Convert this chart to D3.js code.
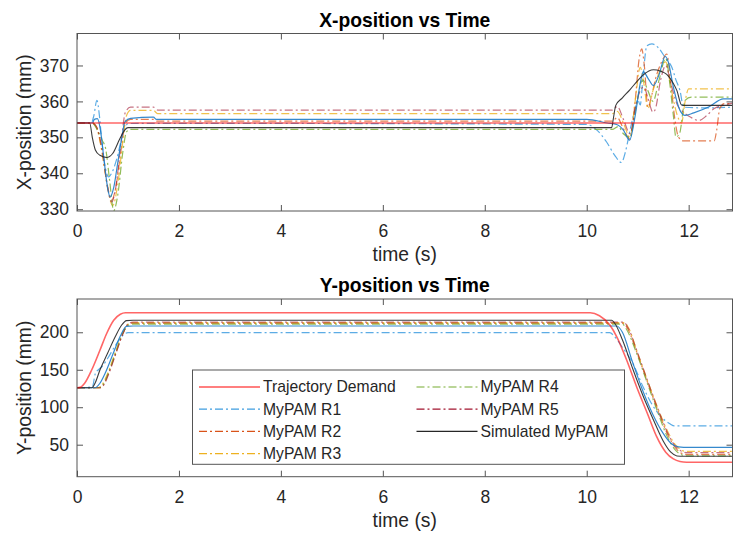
<!DOCTYPE html>
<html>
<head>
<meta charset="utf-8">
<script src="https://cdn.jsdelivr.net/npm/d3@7"></script>
<style>
  body { margin: 0; background: #fff; }
  svg { display: block; }
  text { font-family: "Liberation Sans", Arial, sans-serif; fill: #262626; }
</style>
</head>
<body>
<svg id="chart" width="733" height="538"></svg>
<script>
// ---- data: [time (s), position (mm)] ----
const xTicks = [0, 2, 4, 6, 8, 10, 12];
const xPosTicks = [330, 340, 350, 360, 370];
const yPosTicks = [50, 100, 150, 200];

// X-position vs time
const demandX = [[0, 354], [12.86, 354]];
const r1X = [[0, 354], [0.28, 354], [0.33, 356], [0.39, 360.3], [0.44, 356], [0.48, 350], [0.55, 342], [0.62, 339], [0.68, 340],
  [0.78, 344], [0.91, 351.5], [1.0, 353.8], [1.2, 353.9], [10.0, 353.6], [10.2, 352], [10.39, 348.7], [10.55, 345], [10.68, 343],
  [10.76, 346], [10.85, 352], [10.95, 358], [11.0, 360.5], [11.05, 359], [11.1, 366], [11.18, 375.5], [11.28, 376], [11.4, 375],
  [11.55, 372], [11.67, 369.5], [11.75, 366], [11.83, 363], [11.9, 358.4], [12.3, 358.2], [12.86, 358.4]];
const r2X = [[0, 354], [0.3, 354], [0.38, 353], [0.48, 347], [0.58, 338], [0.68, 332.5], [0.76, 336], [0.86, 346], [0.95, 354],
  [1.05, 355], [1.5, 355], [1.56, 354.5], [10.5, 354.5], [10.6, 355.5], [10.7, 353], [10.85, 349.5], [10.95, 360], [11.03, 372],
  [11.08, 374.6], [11.13, 370], [11.2, 358.4], [11.28, 362], [11.35, 366.3], [11.47, 371], [11.57, 373.2], [11.65, 365],
  [11.73, 355], [11.8, 350.1], [11.9, 349], [12.5, 349], [12.55, 352], [12.61, 358], [12.7, 359.4], [12.86, 359.4]];
const r3X = [[0, 354], [0.3, 354], [0.4, 352], [0.5, 345], [0.6, 336], [0.7, 331], [0.8, 337], [0.9, 349], [0.97, 356],
  [1.05, 357.5], [1.5, 357.5], [1.58, 356.6], [10.5, 356.6], [10.6, 357.2], [10.72, 354], [10.85, 350], [10.95, 360],
  [11.05, 369.5], [11.12, 365], [11.2, 358], [11.3, 363], [11.42, 368], [11.55, 371], [11.65, 364], [11.78, 356], [11.86, 354],
  [11.93, 360], [12.0, 363.5], [12.86, 363.5]];
const r4X = [[0, 354], [0.3, 354], [0.4, 352], [0.5, 349], [0.56, 347], [0.64, 338], [0.72, 329.6], [0.8, 334], [0.9, 346],
  [0.97, 351.5], [1.05, 352.2], [10.5, 352.2], [10.62, 353], [10.72, 351], [10.85, 350], [10.95, 357], [11.1, 366], [11.2, 363],
  [11.3, 360], [11.42, 366], [11.55, 372], [11.63, 365], [11.7, 356], [11.75, 350.1], [11.82, 351], [11.93, 360.3],
  [12.05, 361.2], [12.86, 361.2]];
const r5X = [[0, 354], [0.3, 354], [0.38, 353], [0.5, 346], [0.6, 336], [0.68, 332], [0.76, 336], [0.86, 348], [0.95, 357],
  [1.05, 358.4], [1.5, 358.4], [1.58, 357.6], [10.5, 357.6], [10.6, 358.6], [10.72, 355], [10.85, 351], [10.95, 358], [11.05, 363],
  [11.12, 364], [11.2, 361], [11.3, 357], [11.35, 358], [11.45, 366], [11.55, 370], [11.65, 365], [11.78, 359], [11.9, 357],
  [12.05, 355.5], [12.2, 354.7], [12.35, 356], [12.5, 358], [12.7, 359], [12.86, 359.5]];
const simX = [[0, 354], [0.25, 354], [0.3, 350], [0.36, 346.5], [0.45, 345], [0.58, 344.4], [0.7, 345.5], [0.84, 349.6],
  [0.94, 352.1], [1.0, 352.7], [10.49, 352.7], [10.52, 355], [10.57, 358.9], [10.7, 361], [10.85, 363.3], [11.0, 365.8],
  [11.11, 367.4], [11.31, 368.8], [11.45, 368.4], [11.57, 367.5], [11.7, 365], [11.77, 363], [11.86, 359], [11.9, 358.9],
  [12.86, 358.9]];
const meanX = [[0, 354], [0.3, 354], [0.34, 355], [0.4, 355.2], [0.46, 352], [0.52, 345], [0.6, 336], [0.65, 333.4], [0.72, 336],
  [0.8, 343], [0.88, 350], [0.94, 354.3], [1.05, 355.3], [1.5, 355.6], [1.56, 355], [10.0, 355], [10.4, 354], [10.6, 353.5],
  [10.72, 352], [10.84, 349.2], [10.95, 356], [11.05, 365], [11.11, 368.3], [11.2, 366.5], [11.31, 364.4], [11.42, 367.5],
  [11.54, 372.5], [11.6, 371], [11.7, 364], [11.83, 357.5], [11.93, 356.1], [12.1, 356.8], [12.4, 358.5], [12.68, 360.7],
  [12.86, 360.7]];

// Y-position vs time
const demandY = [[0, 126], [0.06, 126.5], [0.15, 132], [0.29, 150], [0.45, 176], [0.58, 198], [0.72, 216], [0.85, 224],
  [0.95, 226], [10.07, 226], [10.25, 222], [10.45, 210], [10.59, 194], [10.8, 160], [10.98, 127], [11.2, 90], [11.37, 61],
  [11.55, 40], [11.7, 31], [11.83, 27.5], [11.96, 26.5], [12.86, 26.5]];
const r1Y = [[0, 126], [0.3, 127], [0.36, 145], [0.42, 150], [0.5, 155], [0.6, 165], [0.75, 182], [0.9, 196], [1.0, 199.5],
  [10.45, 199.5], [10.55, 194], [10.7, 180], [10.91, 158], [11.1, 128], [11.27, 105], [11.45, 88], [11.63, 78], [11.72, 75],
  [12.86, 75]];
const r2Y = [[0, 126], [0.45, 126], [0.52, 130], [0.6, 142], [0.75, 170], [0.9, 198], [1.0, 210], [1.1, 212], [10.72, 212],
  [10.8, 205], [11.0, 170], [11.2, 132], [11.4, 95], [11.6, 62], [11.75, 45], [11.85, 39], [11.95, 37], [12.86, 37]];
const r3Y = [[0, 126], [0.42, 126], [0.5, 131], [0.6, 145], [0.75, 173], [0.9, 200], [1.0, 211], [1.1, 213], [10.74, 213],
  [10.82, 206], [11.0, 172], [11.2, 134], [11.4, 98], [11.6, 66], [11.75, 49], [11.85, 43], [11.95, 41], [12.86, 41]];
const r4Y = [[0, 126], [0.44, 126], [0.52, 131], [0.6, 143], [0.75, 171], [0.9, 199], [1.0, 209], [1.1, 211], [10.7, 211],
  [10.78, 204], [11.0, 168], [11.2, 130], [11.4, 92], [11.6, 58], [11.75, 42], [11.85, 37], [11.95, 35], [12.86, 35]];
const r5Y = [[0, 126], [0.46, 126], [0.53, 130], [0.62, 144], [0.76, 171], [0.9, 198], [1.0, 211], [1.1, 213.5], [10.73, 213.5],
  [10.81, 206], [11.0, 172], [11.2, 134], [11.4, 97], [11.6, 64], [11.75, 47], [11.85, 41.5], [11.95, 39.5], [12.86, 39.5]];
const simY = [[0, 126], [0.29, 126], [0.36, 133], [0.45, 149.7], [0.6, 172], [0.75, 194], [0.88, 210], [0.97, 215.5],
  [1.1, 216], [10.49, 216], [10.55, 212], [10.7, 190], [10.91, 150], [11.1, 116], [11.31, 83], [11.5, 55], [11.65, 40],
  [11.77, 35], [11.9, 34.5], [12.86, 34.5]];
const meanY = [[0, 126], [0.35, 126], [0.45, 132], [0.55, 145], [0.7, 170], [0.85, 195], [0.97, 208], [1.1, 208.4],
  [10.59, 208.4], [10.7, 200], [10.9, 160], [11.1, 122], [11.3, 90], [11.5, 65], [11.65, 52], [11.8, 47], [11.9, 46.5],
  [12.86, 46.5]];

const seriesNames = ['Trajectory Demand', 'MyPAM R1', 'MyPAM R2', 'MyPAM R3', 'MyPAM R4', 'MyPAM R5', 'Simulated MyPAM'];

// ---- series styling ----
const DASHDOT = '8,3,2,3';
const AXIS = '#555';
const series = [
  { name: 'MyPAM R1', x: r1X, y: r1Y, color: '#3f9de0', dash: DASHDOT, w: 1.2, op: 0.85 },
  { name: 'MyPAM R2', x: r2X, y: r2Y, color: '#D95319', dash: DASHDOT, w: 1.2, op: 0.75 },
  { name: 'MyPAM R3', x: r3X, y: r3Y, color: '#EDB120', dash: DASHDOT, w: 1.2, op: 0.8 },
  { name: 'MyPAM R4', x: r4X, y: r4Y, color: '#77AC30', dash: DASHDOT, w: 1.2, op: 0.8 },
  { name: 'MyPAM R5', x: r5X, y: r5Y, color: '#A2142F', dash: DASHDOT, w: 1.2, op: 0.6 },
  { name: 'mean', x: meanX, y: meanY, color: '#1f7cc8', dash: null, w: 1.2, op: 0.9 },
  { name: 'Simulated MyPAM', x: simX, y: simY, color: '#262626', dash: null, w: 1.1, op: 0.9 },
  { name: 'Trajectory Demand', x: demandX, y: demandY, color: '#ff0000', dash: null, w: 1.6, op: 0.6 }
];

const svg = d3.select('#chart');
const left = 77, right = 732.5;

const x = d3.scaleLinear().domain([0, 12.86]).range([left, right]);

const line = d3.line()
  .x(d => x(d[0]))
  .curve(d3.curveMonotoneX);

function panel(opts) {
  const y = d3.scaleLinear().domain(opts.domain).range([opts.bottom, opts.top]);
  const g = svg.append('g');

  g.append('clipPath').attr('id', 'clip-' + opts.key)
    .append('rect')
    .attr('x', left).attr('y', opts.top)
    .attr('width', right - left).attr('height', opts.bottom - opts.top);

  // inward ticks on all four sides
  g.append('g')
    .attr('transform', `translate(0,${opts.bottom})`)
    .call(d3.axisBottom(x).tickValues(xTicks).tickSizeInner(-6).tickSizeOuter(0).tickPadding(14))
    .call(a => a.select('.domain').remove())
    .call(a => a.selectAll('line').attr('stroke', AXIS))
    .call(a => a.selectAll('text').style('font-size', '17.5px'));
  g.append('g')
    .attr('transform', `translate(0,${opts.top})`)
    .call(d3.axisTop(x).tickValues(xTicks).tickSizeInner(-6).tickSizeOuter(0).tickFormat(''))
    .call(a => a.select('.domain').remove())
    .call(a => a.selectAll('line').attr('stroke', AXIS));
  g.append('g')
    .attr('transform', `translate(${left},0)`)
    .call(d3.axisLeft(y).tickValues(opts.ticks).tickSizeInner(-6).tickSizeOuter(0).tickPadding(8))
    .call(a => a.select('.domain').remove())
    .call(a => a.selectAll('line').attr('stroke', AXIS))
    .call(a => a.selectAll('text').style('font-size', '17.5px'));
  g.append('g')
    .attr('transform', `translate(${right},0)`)
    .call(d3.axisRight(y).tickValues(opts.ticks).tickSizeInner(-6).tickSizeOuter(0).tickFormat(''))
    .call(a => a.select('.domain').remove())
    .call(a => a.selectAll('line').attr('stroke', AXIS));

  // lines
  const lines = g.append('g').attr('clip-path', `url(#clip-${opts.key})`);
  series.forEach(s => {
    lines.append('path')
      .datum(s[opts.key])
      .attr('fill', 'none')
      .attr('stroke', s.color)
      .attr('stroke-width', s.w)
      .attr('stroke-opacity', s.op)
      .attr('stroke-dasharray', s.dash)
      .attr('d', line.y(d => y(d[1])));
  });

  // box
  g.append('rect')
    .attr('x', left).attr('y', opts.top)
    .attr('width', right - left).attr('height', opts.bottom - opts.top)
    .attr('fill', 'none').attr('stroke', AXIS).attr('stroke-width', 1);

  // title and labels
  g.append('text')
    .attr('x', (left + right) / 2).attr('y', opts.top - 7)
    .attr('text-anchor', 'middle')
    .style('font-size', '19.3px').style('font-weight', 'bold').style('fill', '#000')
    .text(opts.title);
  g.append('text')
    .attr('x', (left + right) / 2).attr('y', opts.bottom + 50)
    .attr('text-anchor', 'middle')
    .style('font-size', '19.3px')
    .text('time (s)');
  g.append('text')
    .attr('transform', `translate(31,${(opts.top + opts.bottom) / 2}) rotate(-90)`)
    .attr('text-anchor', 'middle')
    .style('font-size', '19.3px')
    .text(opts.ylabel);

  return y;
}

panel({ key: 'x', top: 33.5, bottom: 211, domain: [329.5, 378.9], ticks: xPosTicks,
  title: 'X-position vs Time', ylabel: 'X-position (mm)' });
panel({ key: 'y', top: 299, bottom: 476.7, domain: [7.3, 244.4], ticks: yPosTicks,
  title: 'Y-position vs Time', ylabel: 'Y-position (mm)' });

// legend (two columns, column-major like MATLAB)
const legend = svg.append('g');
legend.append('rect')
  .attr('x', 192.5).attr('y', 370).attr('width', 432).attr('height', 94.3)
  .attr('fill', '#fff').attr('stroke', AXIS).attr('stroke-width', 1);
const legendStyle = {
  'Trajectory Demand': { color: '#ff0000', dash: null },
  'MyPAM R1': { color: '#3f9de0', dash: DASHDOT },
  'MyPAM R2': { color: '#D95319', dash: DASHDOT },
  'MyPAM R3': { color: '#EDB120', dash: DASHDOT },
  'MyPAM R4': { color: '#77AC30', dash: DASHDOT },
  'MyPAM R5': { color: '#A2142F', dash: DASHDOT },
  'Simulated MyPAM': { color: '#262626', dash: null }
};
seriesNames.forEach((name, i) => {
  const col = i < 4 ? 0 : 1;
  const row = i < 4 ? i : i - 4;
  const lx = col === 0 ? 199 : 416.5;
  const ly = 387 + row * 22.2;
  const st = legendStyle[name];
  legend.append('line')
    .attr('x1', lx).attr('x2', lx + 61).attr('y1', ly).attr('y2', ly)
    .attr('stroke', st.color).attr('stroke-width', 1.2)
    .attr('stroke-dasharray', st.dash);
  legend.append('text')
    .attr('x', lx + 64).attr('y', ly).attr('dy', '0.35em')
    .style('font-size', '15.7px')
    .text(name);
});
</script>
</body>
</html>
